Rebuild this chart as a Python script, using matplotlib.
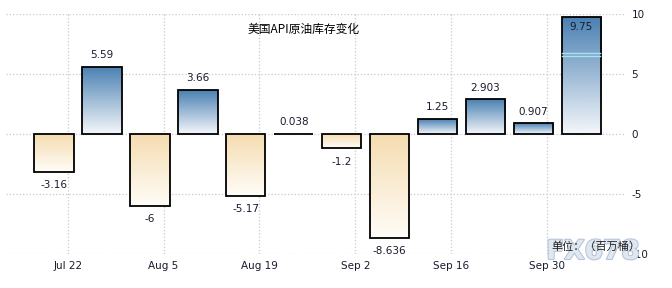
import numpy as np
import matplotlib
matplotlib.use('Agg')
import matplotlib.pyplot as plt
import matplotlib.dates as mdates
import matplotlib.patheffects as pe
import datetime as dt
from matplotlib.colors import LinearSegmentedColormap
from matplotlib.patches import Rectangle

plt.rcParams['font.family'] = ['DejaVu Sans', 'Noto Sans CJK SC']

# data
bar_dates = ['2014-07-20', '2014-07-27', '2014-08-03', '2014-08-10', '2014-08-17', '2014-08-24',
             '2014-08-31', '2014-09-07', '2014-09-14', '2014-09-21', '2014-09-28', '2014-10-05']
values = [-3.16, 5.59, -6, 3.66, -5.17, 0.038, -1.2, -8.636, 1.25, 2.903, 0.907, 9.75]
labels = ['-3.16', '5.59', '-6', '3.66', '-5.17', '0.038', '-1.2', '-8.636', '1.25', '2.903', '0.907', '9.75']
tick_dates = ['2014-07-22', '2014-08-05', '2014-08-19', '2014-09-02', '2014-09-16', '2014-09-30']
tick_labels = ['Jul 22', 'Aug 5', 'Aug 19', 'Sep 2', 'Sep 16', 'Sep 30']
y_ticks = [-10, -5, 0, 5, 10]
title = '美国API原油库存变化'
unit = '单位：（百万桶）'

text_color = '#1a1a2e'
blue_cmap = LinearSegmentedColormap.from_list('b', ['#f4f7fb', '#4a80b2'])
tan_cmap = LinearSegmentedColormap.from_list('t', ['#fffdf8', '#f5dcb0'])

fig = plt.figure(figsize=(6.72, 2.88), dpi=100)
ax = fig.add_axes([6/672, 34/288, 620/672, 240/288])

x = mdates.date2num([dt.datetime.strptime(d, '%Y-%m-%d') for d in bar_dates])
xt = mdates.date2num([dt.datetime.strptime(d, '%Y-%m-%d') for d in tick_dates])
width = 5.75
grad = np.linspace(0, 1, 256).reshape(-1, 1)

for xi, v, lab in zip(x, values, labels):
    x0 = xi - width / 2
    rect = Rectangle((x0, 0), width, v, facecolor='none', edgecolor='black', linewidth=1.3, zorder=4)
    ax.add_patch(rect)
    if v > 0:
        im = ax.imshow(grad, cmap=blue_cmap, aspect='auto', origin='lower',
                       extent=[x0, x0 + width, 0, v], zorder=3)
    else:
        im = ax.imshow(grad, cmap=tan_cmap, aspect='auto', origin='lower',
                       extent=[x0, x0 + width, v, 0], zorder=3)
    im.set_clip_path(rect)
    if v >= 9:
        ax.text(xi, v - 0.45, lab, ha='center', va='top', fontsize=7.5, color=text_color, zorder=6)
    elif v >= 0:
        ax.text(xi, v + 0.55, lab, ha='center', va='bottom', fontsize=7.5, color=text_color, zorder=6)
    else:
        ax.text(xi, v - 0.7, lab, ha='center', va='top', fontsize=7.5, color=text_color, zorder=6)

# light cyan lines in the last bar
last = x[-1]
for yy in [6.75, 6.5]:
    ax.plot([last - width / 2 + 0.1, last + width / 2 - 0.1], [yy, yy], color='#a8e4f0', lw=1.0, zorder=5)

ax.set_xlim(mdates.date2num(dt.datetime(2014, 7, 13)), mdates.date2num(dt.datetime(2014, 10, 11, 12)))
ax.set_ylim(-10, 10)

ax.set_xticks(xt)
ax.set_xticklabels(tick_labels, fontsize=7.5, color=text_color)
ax.set_yticks(y_ticks)
ax.set_yticklabels([str(t) for t in y_ticks], fontsize=7.5, color=text_color)
ax.yaxis.tick_right()
ax.tick_params(axis='both', length=0, pad=5)
ax.tick_params(axis='y', pad=4)
ax.grid(True, color='#c8c8c8', linestyle=':', linewidth=0.9, zorder=0)
ax.set_axisbelow(True)
for s in ax.spines.values():
    s.set_visible(False)

ax.text(0.48, 0.935, title, transform=ax.transAxes, ha='center', va='center', fontsize=8.5,
        color='black', family=['Noto Sans CJK SC', 'DejaVu Sans'])
fig.text(593/672, 1 - 252/288, 'FX678', ha='center', va='center', fontsize=19, color='#dfe7f0',
         fontweight='bold', zorder=1,
         path_effects=[pe.withStroke(linewidth=1.5, foreground='#b4c4d8')])
fig.text(596/672, 1 - 247/288, unit, ha='center', va='center', fontsize=8, color='#222222',
         family=['Noto Sans CJK SC', 'DejaVu Sans'], zorder=2)

fig.savefig('out.png', dpi=100)
plt.close()
